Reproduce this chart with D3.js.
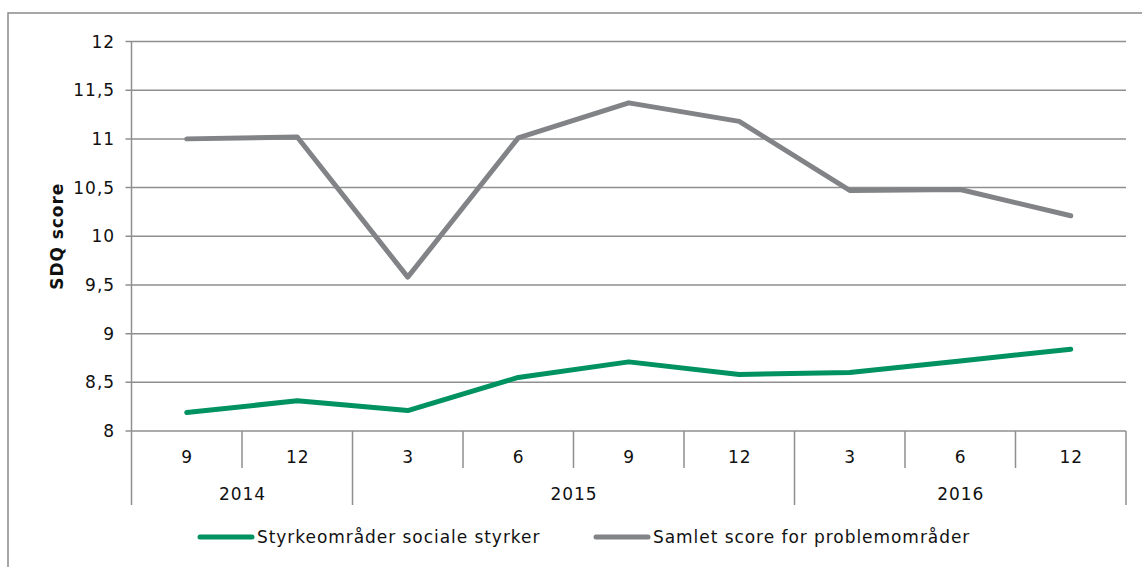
<!DOCTYPE html>
<html><head><meta charset="utf-8">
<script src="https://cdn.jsdelivr.net/npm/d3@7"></script>
<style>body{margin:0;background:#fff}svg{display:block;font-family:"DejaVu Sans",Verdana,sans-serif;letter-spacing:0.95px}</style>
</head><body><svg id="c" width="1142" height="567"></svg>
<script>
const months = ["9","12","3","6","9","12","3","6","12"];
const years = ["2014","2014","2015","2015","2015","2015","2016","2016","2016"];
const yearGroups = ["2014","2015","2016"];
const seriesNames = ["Styrkeområder sociale styrker","Samlet score for problemområder"];
const strengths = [8.19, 8.31, 8.21, 8.55, 8.71, 8.58, 8.60, 8.72, 8.84];
const problems = [11.00, 11.02, 9.58, 11.01, 11.37, 11.18, 10.47, 10.48, 10.21];
const yTicks = [8, 8.5, 9, 9.5, 10, 10.5, 11, 11.5, 12];
const colors = ["#009260", "#818386"];

const svg = d3.select("#c");
const L = 131.5, R = 1126, T = 41.5, B = 431;
const grid = "#8f8f8f";
const x = d3.scaleBand().domain(d3.range(months.length)).range([L, R]);
const y = d3.scaleLinear().domain([8, 12]).range([B, T]);

// outer border
svg.append("rect").attr("x", 8).attr("y", 13).attr("width", 1160).attr("height", 600)
  .attr("fill", "none").attr("stroke", "#8a8a8a").attr("stroke-width", 1.5);

// gridlines
svg.append("g").selectAll("line").data(yTicks).join("line")
  .attr("x1", L - 6).attr("x2", R).attr("y1", d => y(d)).attr("y2", d => y(d))
  .attr("stroke", grid).attr("stroke-width", 1.5);
// y axis line
svg.append("line").attr("x1", L).attr("x2", L).attr("y1", T).attr("y2", B)
  .attr("stroke", grid).attr("stroke-width", 1.5);
// y tick labels
svg.append("g").selectAll("text").data(yTicks).join("text")
  .attr("x", 115).attr("y", d => y(d) + 6).attr("text-anchor", "end")
  .attr("font-size", 17).attr("fill", "#111")
  .text(d => String(d).replace(".", ","));
// y title
svg.append("text").attr("transform", `translate(63,${(T + B) / 2}) rotate(-90)`)
  .attr("text-anchor", "middle").attr("font-size", 17).attr("font-weight", "bold").attr("fill", "#111")
  .text("SDQ score");

// category separators
const catBounds = d3.range(months.length + 1);
const yearStarts = new Set();
years.forEach((yy, i) => { if (i === 0 || years[i - 1] !== yy) yearStarts.add(i); });
yearStarts.add(months.length);
svg.append("g").selectAll("line").data(catBounds).join("line")
  .attr("x1", i => i < months.length ? x(i) : R).attr("x2", i => i < months.length ? x(i) : R)
  .attr("y1", B).attr("y2", i => yearStarts.has(i) ? 505 : 468)
  .attr("stroke", grid).attr("stroke-width", 1.5);
// month labels
svg.append("g").selectAll("text").data(months).join("text")
  .attr("x", (d, i) => x(i) + x.bandwidth() / 2 + 0.5).attr("y", 463).attr("text-anchor", "middle")
  .attr("font-size", 17).attr("fill", "#111").text(d => d);
// year labels
svg.append("g").selectAll("text").data(yearGroups).join("text")
  .attr("x", g => {
    const idx = years.map((yy, i) => yy === g ? i : -1).filter(i => i >= 0);
    const a = x(idx[0]), b = x(idx[idx.length - 1]) + x.bandwidth();
    return (a + b) / 2 + 0.5;
  })
  .attr("y", 500).attr("text-anchor", "middle").attr("font-size", 17).attr("fill", "#111").text(g => g);

// lines
const line = d3.line().x((d, i) => x(i) + x.bandwidth() / 2).y(d => y(d));
[strengths, problems].forEach((s, k) => {
  svg.append("path").datum(s).attr("d", line).attr("fill", "none")
    .attr("stroke", colors[k]).attr("stroke-width", 5).attr("stroke-linejoin", "round").attr("stroke-linecap", "round");
});

// legend
const legX = [200, 596];
seriesNames.forEach((n, k) => {
  svg.append("line").attr("x1", legX[k]).attr("x2", legX[k] + 52).attr("y1", 537).attr("y2", 537)
    .attr("stroke", colors[k]).attr("stroke-width", 5).attr("stroke-linecap", "round");
  svg.append("text").attr("x", legX[k] + 57).attr("y", 543).attr("font-size", 17).attr("fill", "#111").text(n);
});
</script></body></html>
